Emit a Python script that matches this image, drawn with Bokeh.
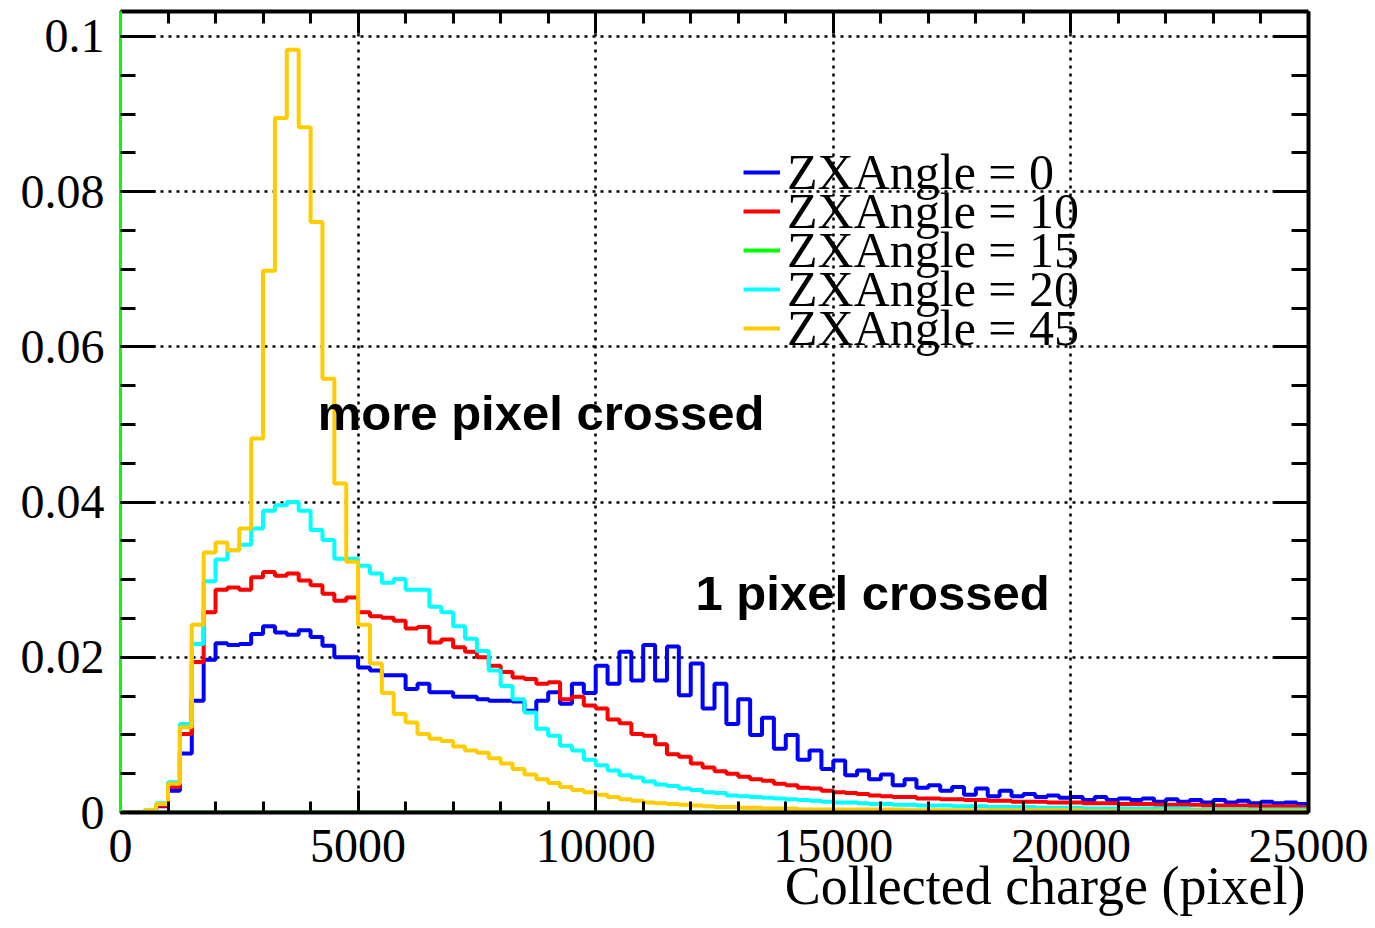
from bokeh.plotting import figure
from bokeh.models import (Range1d, FixedTicker, LinearAxis, Legend, LegendItem,
                          Label, Title, CustomJSTickFormatter, ColumnDataSource)
from bokeh.core.properties import value
from bokeh.embed import file_html
from bokeh.resources import INLINE

# ---------------- data ----------------
X_MIN, X_MAX, N_BINS = 0, 25000, 100
Y_MAX = 0.10322

x_major_ticks = [0, 5000, 10000, 15000, 20000, 25000]
y_major_ticks = [0, 0.02, 0.04, 0.06, 0.08, 0.1]
x_title = "Collected charge (pixel)"

series_labels = ["ZXAngle = 0", "ZXAngle = 10", "ZXAngle = 15", "ZXAngle = 20", "ZXAngle = 45"]
series_colors = ["#0000ff", "#ff0000", "#00ff00", "#00ffff", "#ffcc00"]

angle0 = [
    0, 0, 0.0002, 0.0008, 0.0028, 0.0076, 0.0144, 0.0197, 0.0218, 0.0216,
    0.0217, 0.0230, 0.0240, 0.0232, 0.0229, 0.0235, 0.0226, 0.0215, 0.0200, 0.0200,
    0.0187, 0.0183, 0.0177, 0.0177, 0.0159, 0.0166, 0.0155, 0.0155, 0.0149, 0.0149,
    0.0146, 0.0144, 0.0144, 0.0143, 0.0131, 0.0144, 0.0155, 0.0140, 0.0166, 0.0154,
    0.0189, 0.0166, 0.0207, 0.0170, 0.0216, 0.0170, 0.0214, 0.0151, 0.0192, 0.0134,
    0.0166, 0.0114, 0.0146, 0.0100, 0.0122, 0.0082, 0.0100, 0.0068, 0.0080, 0.0056,
    0.0067, 0.0048, 0.0054, 0.0043, 0.0049, 0.0035, 0.0043, 0.0032, 0.0035, 0.0028,
    0.0033, 0.0023, 0.0031, 0.0021, 0.0028, 0.0021, 0.0024, 0.0020, 0.0022, 0.0019,
    0.0020, 0.0016, 0.0020, 0.0016, 0.0018, 0.0016, 0.0018, 0.0014, 0.0017, 0.0014,
    0.0016, 0.0013, 0.0016, 0.0013, 0.0015, 0.0012, 0.0014, 0.0012, 0.0013, 0.0011,
]

angle10 = [
    0, 0, 0.0002, 0.0009, 0.0033, 0.0101, 0.0194, 0.0258, 0.0287, 0.0290,
    0.0287, 0.0303, 0.0310, 0.0305, 0.0308, 0.0299, 0.0293, 0.0282, 0.0273, 0.0277,
    0.0258, 0.0253, 0.0251, 0.0247, 0.0237, 0.0239, 0.0219, 0.0223, 0.0213, 0.0207,
    0.0200, 0.0189, 0.0181, 0.0174, 0.0172, 0.0166, 0.0168, 0.0146, 0.0149, 0.0138,
    0.0134, 0.0120, 0.0115, 0.0101, 0.0099, 0.0088, 0.0075, 0.0072, 0.0063, 0.0058,
    0.0053, 0.0050, 0.0046, 0.0043, 0.0041, 0.0037, 0.0035, 0.0032, 0.0031, 0.0028,
    0.0026, 0.0025, 0.0024, 0.0022, 0.0021, 0.0020, 0.0020, 0.0018, 0.0018, 0.0017,
    0.0017, 0.0016, 0.0016, 0.0015, 0.0015, 0.0014, 0.0014, 0.0014, 0.0013, 0.0013,
    0.0013, 0.0012, 0.0012, 0.0012, 0.0011, 0.0011, 0.0011, 0.0010, 0.0010, 0.0010,
    0.0010, 0.0009, 0.0009, 0.0009, 0.0009, 0.0008, 0.0008, 0.0008, 0.0008, 0.0007,
]

angle15 = [
    0, 0, 0, 0, 0, 0, 0, 0, 0, 0,
    0, 0, 0, 0, 0, 0, 0, 0, 0, 0,
    0, 0, 0, 0, 0, 0, 0, 0, 0, 0,
    0, 0, 0, 0, 0, 0, 0, 0, 0, 0,
    0, 0, 0, 0, 0, 0, 0, 0, 0, 0,
    0, 0, 0, 0, 0, 0, 0, 0, 0, 0,
    0, 0, 0, 0, 0, 0, 0, 0, 0, 0,
    0, 0, 0, 0, 0, 0, 0, 0, 0, 0,
    0, 0, 0, 0, 0, 0, 0, 0, 0, 0,
    0, 0, 0, 0, 0, 0, 0, 0, 0, 0,
]

angle20 = [
    0, 0, 0.0003, 0.0012, 0.0039, 0.0114, 0.0217, 0.0298, 0.0326, 0.0338,
    0.0345, 0.0366, 0.0389, 0.0396, 0.0400, 0.0389, 0.0364, 0.0351, 0.0327, 0.0327,
    0.0318, 0.0308, 0.0296, 0.0301, 0.0287, 0.0287, 0.0265, 0.0258, 0.0240, 0.0224,
    0.0208, 0.0183, 0.0163, 0.0146, 0.0129, 0.0108, 0.0099, 0.0086, 0.0080, 0.0068,
    0.0061, 0.0054, 0.0048, 0.0045, 0.0040, 0.0036, 0.0034, 0.0031, 0.0029, 0.0026,
    0.0025, 0.0022, 0.0021, 0.0020, 0.0019, 0.0018, 0.0017, 0.0016, 0.0015, 0.0014,
    0.0013, 0.0013, 0.0012, 0.0011, 0.0011, 0.0010, 0.0010, 0.0009, 0.0009, 0.0009,
    0.0008, 0.0008, 0.0008, 0.0007, 0.0007, 0.0007, 0.0007, 0.0006, 0.0006, 0.0006,
    0.0006, 0.0005, 0.0005, 0.0005, 0.0005, 0.0005, 0.0005, 0.0005, 0.0005, 0.0005,
    0.0004, 0.0004, 0.0004, 0.0004, 0.0004, 0.0004, 0.0004, 0.0004, 0.0004, 0.0004,
]

angle45 = [
    0, 0, 0.0003, 0.0011, 0.0037, 0.0110, 0.0242, 0.0335, 0.0348, 0.0338,
    0.0366, 0.0482, 0.0698, 0.0895, 0.0983, 0.0883, 0.0761, 0.0559, 0.0424, 0.0323,
    0.0242, 0.0192, 0.0154, 0.0127, 0.0116, 0.0101, 0.0095, 0.0092, 0.0085, 0.0080,
    0.0077, 0.0070, 0.0063, 0.0056, 0.0049, 0.0043, 0.0038, 0.0033, 0.0029, 0.0026,
    0.0023, 0.0020, 0.0017, 0.0015, 0.0013, 0.0012, 0.0011, 0.0010, 0.0009, 0.0008,
    0.0007, 0.0007, 0.0006, 0.0006, 0.0005, 0.0005, 0.0005, 0.0004, 0.0004, 0.0004,
    0.0004, 0.0004, 0.0004, 0.0004, 0.0004, 0.0004, 0.0003, 0.0003, 0.0003, 0.0003,
    0.0003, 0.0003, 0.0003, 0.0003, 0.0003, 0.0003, 0.0003, 0.0003, 0.0003, 0.0003,
    0.0003, 0.0002, 0.0002, 0.0002, 0.0002, 0.0002, 0.0002, 0.0002, 0.0002, 0.0002,
    0.0002, 0.0002, 0.0002, 0.0002, 0.0002, 0.0002, 0.0002, 0.0002, 0.0002, 0.0002,
]

all_series = [angle0, angle10, angle15, angle20, angle45]

# ---------------- figure ----------------
bin_w = (X_MAX - X_MIN) / N_BINS
edges = [X_MIN + i * bin_w for i in range(N_BINS + 1)]

p = figure(width=1375, height=928, output_backend="svg", toolbar_location=None,
           x_range=Range1d(X_MIN, X_MAX), y_range=Range1d(0, Y_MAX),
           min_border_left=120, min_border_right=67, min_border_top=11,
           min_border_bottom=116)
p.outline_line_color = None
p.background_fill_color = "white"
p.border_fill_color = "white"

SERIF = "Liberation Serif"

x_minor = [X_MIN + i * 1000 for i in range(26)]
y_minor = [i * 0.005 for i in range(21)]

def xticker():
    return FixedTicker(ticks=x_major_ticks, minor_ticks=x_minor)

def yticker():
    return FixedTicker(ticks=y_major_ticks, minor_ticks=y_minor)

yfmt = CustomJSTickFormatter(code="return tick === 0 ? '0' : String(Math.round(tick*1000)/1000);")
blankfmt = CustomJSTickFormatter(code="return '';")

xa = p.xaxis[0]
xa.ticker = xticker()
xa.major_tick_in = 22
xa.major_tick_out = 0
xa.minor_tick_in = 11
xa.minor_tick_out = 0
xa.major_tick_line_width = 3
xa.minor_tick_line_width = 3
xa.axis_line_width = 4
xa.axis_line_color = "black"
xa.major_label_text_font = SERIF
xa.major_label_text_font_size = "48px"
xa.major_label_text_color = "black"
xa.major_label_standoff = 17

ya = p.yaxis[0]
ya.ticker = yticker()
ya.formatter = yfmt
ya.major_tick_in = 35
ya.major_tick_out = 0
ya.minor_tick_in = 15
ya.minor_tick_out = 0
ya.major_tick_line_width = 3
ya.minor_tick_line_width = 3
ya.axis_line_width = 3
ya.axis_line_color = "#00ff00"
ya.major_label_text_font = SERIF
ya.major_label_text_font_size = "48px"
ya.major_label_text_color = "black"
ya.major_label_standoff = 16

ra = LinearAxis(ticker=yticker(), formatter=blankfmt,
                major_tick_in=35, major_tick_out=0, minor_tick_in=17, minor_tick_out=0,
                major_tick_line_width=3, minor_tick_line_width=3,
                axis_line_width=4, major_label_standoff=0)
p.add_layout(ra, "right")
ta = LinearAxis(ticker=xticker(), formatter=blankfmt,
                major_tick_in=22, major_tick_out=0, minor_tick_in=12, minor_tick_out=0,
                major_tick_line_width=3, minor_tick_line_width=3,
                axis_line_width=4, major_label_standoff=0)
p.add_layout(ta, "above")

# x-axis title, right-aligned at the end of the axis (ROOT style)
p.add_layout(Title(text=x_title, align="right", vertical_align="bottom",
                   standoff=-22, offset=3, text_font=SERIF, text_font_size="54px",
                   text_font_style="normal", text_color="black"), "below")

p.grid.grid_line_color = "black"
p.grid.grid_line_dash = "3 5"
p.grid.grid_line_width = 2.5
p.grid.grid_line_alpha = 1.0

renderers = []
for vals, col in zip(all_series, series_colors):
    src = ColumnDataSource(dict(x=edges, y=list(vals) + [vals[-1]]))
    r = p.step(x="x", y="y", source=src, mode="after", line_color=col, line_width=4)
    renderers.append(r)

# legend: one entry per Legend so that entries can sit closer than the text height
LEG_X, LEG_Y0, LEG_STEP = 623, 611, 39
for k, (lbl, r) in enumerate(zip(series_labels, renderers)):
    leg = Legend(items=[LegendItem(label=value(lbl), renderers=[r])],
                 location=(LEG_X, LEG_Y0 - k * LEG_STEP), orientation="vertical",
                 label_text_font=SERIF, label_text_font_size="50px",
                 label_text_color="black",
                 glyph_width=37, glyph_height=20, label_standoff=7, spacing=0,
                 padding=0, margin=0, border_line_color=None,
                 background_fill_alpha=0)
    p.add_layout(leg)

for txt, x, y in [("more pixel crossed", 4150, 0.0515), ("1 pixel crossed", 12100, 0.0283)]:
    p.add_layout(Label(x=x, y=y, text=txt, text_font="Liberation Sans",
                       text_font_style="bold", text_font_size="49px",
                       text_baseline="alphabetic", text_color="black"))

open("out.html", "w").write(file_html(p, INLINE))
